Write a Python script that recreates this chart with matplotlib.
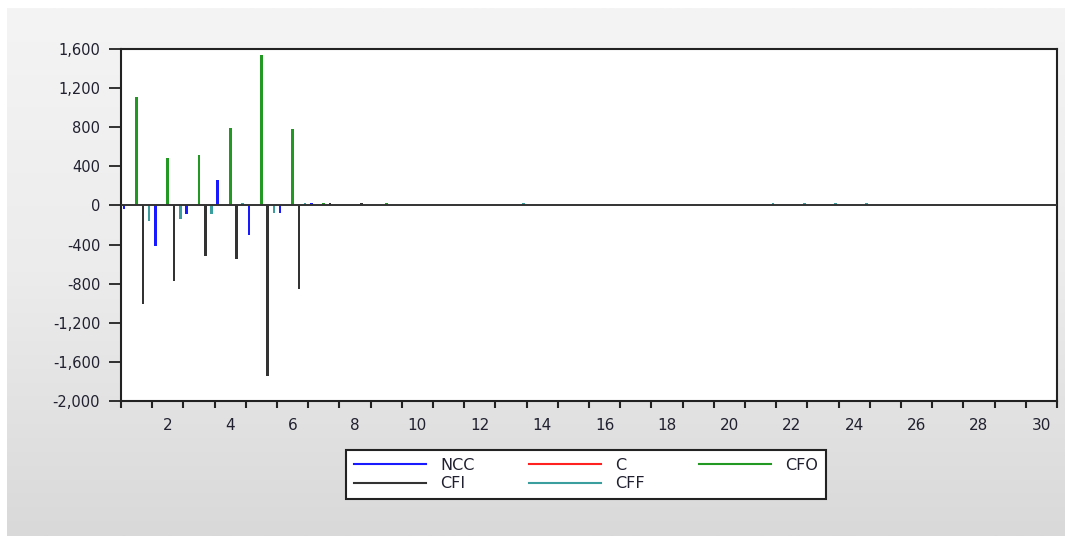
import numpy as np
import matplotlib.pyplot as plt
from matplotlib.ticker import FuncFormatter, FixedLocator
from matplotlib.lines import Line2D
from matplotlib.colors import LinearSegmentedColormap

plt.rcParams['font.family'] = ['DejaVu Sans']

obs = np.arange(1, 31)
ncc = [-40, -418, -92, 262, -299, -78, 25, 0, 0, 0,
       0, 0, 0, 0, 0, 0, 0, 0, 0, 0,
       0, 0, 0, 0, 0, 0, 0, 0, 0, 0]
c = [0] * 30
cfo = [1114, 482, 513, 795, 1535, 781, 25, 0, 25, 0,
       0, 0, 0, 0, 0, 0, 0, 0, 0, 0,
       0, 0, 0, 0, 0, 0, 0, 0, 0, 0]
cfi = [-1009, -771, -520, -550, -1742, -859, 25, 25, 0, 0,
       0, 0, 0, 0, 0, 0, 0, 0, 0, 0,
       0, 0, 0, 0, 0, 0, 0, 0, 0, 0]
cff = [-163, -136, -92, 25, -78, 25, 0, 0, 0, 0,
       0, 0, 25, 0, 0, 0, 0, 0, 0, 0,
       25, 25, 25, 25, 0, 0, 0, 0, 0, 0]

names = ['NCC', 'C', 'CFO', 'CFI', 'CFF']
series = [ncc, c, cfo, cfi, cff]
colors = ['#1a1aff', '#ff2020', '#229922', '#333333', '#3a9e9e']
txt = '#202030'

W, H = 1065, 536
fig = plt.figure(figsize=(W / 100, H / 100), dpi=100)
fig.patch.set_facecolor('white')

# grey gradient panel behind the chart
bg = fig.add_axes([7 / W, 0, 1 - 7 / W, 1 - 8 / H], zorder=0)
grad = np.linspace(0, 1, 256).reshape(-1, 1)
cmap = LinearSegmentedColormap.from_list('g', ['#f4f4f4', '#ececec', '#d9d9d9'])
bg.imshow(grad, aspect='auto', cmap=cmap, extent=[0, 1, 0, 1], origin='upper')
bg.axis('off')

ax = fig.add_axes([121 / W, 1 - 401 / H, (1057 - 121) / W, (401 - 49) / H], zorder=1)
ax.set_facecolor('white')

offsets = [-0.4, -0.2, 0.0, 0.2, 0.4]
for name, vals, col, off in zip(names, series, colors, offsets):
    ax.bar(obs + off, vals, width=0.085, color=col, linewidth=0, label=name)

ax.axhline(0, color='#333333', lw=1.4, zorder=3)

ax.set_xlim(0.5, 30.5)
ax.set_ylim(-2000, 1600)
ax.set_yticks(np.arange(-2000, 1601, 400))
ax.yaxis.set_major_formatter(FuncFormatter(lambda v, p: f'{int(v):,}'))
ax.set_xticks(np.arange(2, 31, 2))
ax.xaxis.set_minor_locator(FixedLocator(np.arange(0.5, 31, 1)))
ax.tick_params(axis='x', which='major', length=0, pad=12, labelsize=11, labelcolor=txt)
ax.tick_params(axis='x', which='minor', length=5, width=1.5, direction='out', color='#222222')
ax.tick_params(axis='y', length=9, width=1.3, pad=6, labelsize=10.5, labelcolor=txt, color='#222222')

for s in ax.spines.values():
    s.set_color('#222222')
    s.set_linewidth(1.5)

# legend laid out like the reference: NCC, C, CFO / CFI, CFF
order = [0, 3, 1, 4, 2]
handles = [Line2D([0], [0], color=colors[i], lw=1.5) for i in order]
leg = fig.legend(handles, [names[i] for i in order], ncol=3,
                 loc='upper center', bbox_to_anchor=(586 / W, 1 - 450 / H),
                 borderaxespad=0, fontsize=11.5, handlelength=4.5, handletextpad=0.9,
                 columnspacing=3.4, labelspacing=0.2, borderpad=0.5,
                 fancybox=False, framealpha=1, edgecolor='#222222')
leg.get_frame().set_linewidth(1.5)
for t in leg.get_texts():
    t.set_color(txt)

fig.savefig('out.png', dpi=100)
